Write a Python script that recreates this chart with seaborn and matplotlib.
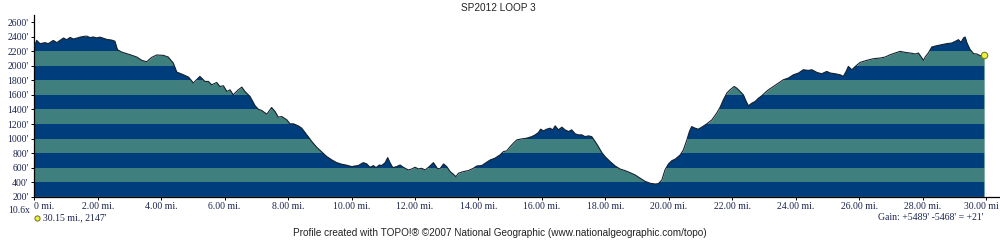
import numpy as np
import matplotlib
matplotlib.use("Agg")
import matplotlib.pyplot as plt
import seaborn as sns

# ---- data (distance in miles, elevation in feet) ----
dist = [0.00, 0.075, 0.18, 0.34, 0.44, 0.60, 0.71, 0.92, 1.02, 1.13, 1.23, 1.39, 1.44, 1.55, 1.65,
        1.76, 1.86, 1.97, 2.07, 2.18, 2.28, 2.44, 2.54, 2.62, 2.75, 3.02, 3.23, 3.39, 3.54, 3.70,
        3.86, 4.07, 4.22, 4.38, 4.49, 4.70, 4.86, 4.95, 5.01, 5.22, 5.38, 5.49, 5.59, 5.75, 5.85,
        5.96, 6.07, 6.17, 6.27, 6.43, 6.54, 6.64, 6.80, 6.96, 7.06, 7.17, 7.33, 7.48, 7.59, 7.69,
        7.80, 7.96, 8.06, 8.17, 8.32, 8.43, 8.59, 8.75, 8.90, 9.06, 9.22, 9.38, 9.53, 9.69, 9.85,
        10.01, 10.11, 10.21, 10.37, 10.48, 10.58, 10.69, 10.77, 10.88, 10.95, 11.06, 11.14, 11.21,
        11.30, 11.42, 11.53, 11.63, 11.79, 11.90, 12.00, 12.11, 12.21, 12.32, 12.45, 12.58, 12.71,
        12.79, 12.90, 13.00, 13.11, 13.21, 13.29, 13.37, 13.52, 13.68, 13.84, 13.95, 14.10, 14.21,
        14.37, 14.52, 14.68, 14.79, 14.89, 15.00, 15.10, 15.21, 15.37, 15.52, 15.68, 15.79, 15.89,
        15.96, 16.05, 16.15, 16.26, 16.34, 16.42, 16.52, 16.63, 16.73, 16.84, 16.94, 17.05, 17.15,
        17.26, 17.36, 17.47, 17.57, 17.68, 17.78, 17.89, 17.99, 18.15, 18.31, 18.46, 18.62, 18.78,
        18.94, 19.10, 19.25, 19.41, 19.57, 19.67, 19.78, 19.88, 19.99, 20.10, 20.20, 20.36, 20.46,
        20.57, 20.65, 20.72, 20.83, 20.93, 21.04, 21.20, 21.36, 21.51, 21.62, 21.72, 21.83, 21.93,
        22.06, 22.14, 22.25, 22.35, 22.44, 22.51, 22.62, 22.72, 22.83, 22.93, 23.04, 23.14, 23.30,
        23.46, 23.61, 23.77, 23.93, 24.09, 24.24, 24.40, 24.51, 24.67, 24.82, 24.98, 25.09, 25.24,
        25.40, 25.50, 25.59, 25.66, 25.77, 25.88, 26.03, 26.24, 26.45, 26.66, 26.82, 26.98, 27.13,
        27.29, 27.45, 27.61, 27.77, 27.87, 27.98, 28.03, 28.08, 28.18, 28.29, 28.45, 28.61, 28.76,
        28.92, 29.03, 29.13, 29.21, 29.29, 29.34, 29.40, 29.50, 29.61, 29.71, 29.82, 29.94]
elev = [2268, 2351, 2306, 2320, 2306, 2351, 2320, 2384, 2360, 2392, 2370, 2388, 2396, 2405, 2410,
        2390, 2398, 2385, 2396, 2380, 2365, 2355, 2340, 2223, 2191, 2154, 2122, 2076, 2057, 2117,
        2150, 2145, 2122, 2040, 1915, 1878, 1846, 1800, 1764, 1855, 1786, 1786, 1740, 1772, 1717,
        1727, 1648, 1671, 1602, 1671, 1708, 1648, 1579, 1451, 1405, 1386, 1336, 1427, 1372, 1295,
        1303, 1258, 1203, 1203, 1175, 1143, 1051, 958, 881, 816, 752, 706, 669, 647, 633,
        614, 623, 628, 669, 651, 605, 628, 600, 637, 628, 669, 738, 669,
        600, 614, 637, 605, 568, 582, 605, 582, 591, 568, 614, 669, 586,
        586, 651, 614, 545, 509, 476, 523, 545, 559, 591, 623, 628, 660,
        706, 730, 775, 821, 830, 889, 936, 982, 996, 1005, 1027, 1051, 1083,
        1129, 1106, 1129, 1143, 1120, 1175, 1120, 1157, 1120, 1097, 1120, 1065, 1051,
        1051, 1027, 1037, 1027, 958, 889, 807, 752, 683, 623, 582, 559, 531,
        499, 454, 412, 385, 375, 379, 430, 568, 651, 697, 716, 775, 844,
        982, 1097, 1165, 1143, 1129, 1157, 1203, 1258, 1350, 1433, 1534, 1626, 1671,
        1717, 1695, 1648, 1602, 1510, 1451, 1488, 1510, 1557, 1589, 1634, 1671, 1717,
        1764, 1809, 1833, 1878, 1902, 1947, 1938, 1947, 1910, 1892, 1924, 1902, 1892,
        1878, 1855, 1924, 1993, 1947, 1993, 2048, 2076, 2099, 2108, 2122, 2154, 2177,
        2200, 2186, 2177, 2164, 2177, 2108, 2076, 2122, 2177, 2260, 2278, 2292, 2306,
        2315, 2338, 2361, 2324, 2384, 2398, 2315, 2223, 2168, 2164, 2140, 2147]

x_ticks = list(range(0, 31, 2))
x_tick_labels = ["0 mi."] + [f"{v:.2f} mi." for v in x_ticks[1:-1]] + [""]
last_x_label = "30.00 mi"
y_ticks = list(range(200, 2601, 200))
y_tick_labels = [f"{v}'" for v in y_ticks]

title = "SP2012 LOOP 3"
footer = "Profile created with TOPO!\u00ae \u00a92007 National Geographic (www.nationalgeographic.com/topo)"
zoom_text = "10.6x"
cursor_text = "30.15 mi., 2147'"
gain_text = "Gain: +5489' -5468' = +21'"

DARK = "#003d7d"
TEAL = "#3f7f7e"
LABEL = "#1c2450"

sns.set_theme(style="white")
plt.rcParams["font.family"] = ["Liberation Serif", "DejaVu Serif"]

fig = plt.figure(figsize=(10, 2.4), dpi=100)
ax = fig.add_axes([0.0343, 0.1804, 0.9657, 0.757])

x = np.array(dist)
y = np.array(elev, dtype=float)

poly = ax.fill_between(x, 200, y, color=TEAL, linewidth=0, zorder=1)
for lo in range(200, 2700, 400):
    band = ax.axhspan(lo, lo + 200, color=DARK, linewidth=0, zorder=2)
    band.set_clip_path(poly.get_paths()[0], poly.get_transform())

sns.lineplot(x=x, y=y, ax=ax, color="#17222e", linewidth=0.8, zorder=3,
             sort=False, estimator=None)
ax.scatter([x[-1]], [y[-1]], s=22, color="#e8f040", edgecolor="#707020",
           linewidth=0.7, zorder=5, clip_on=False)

ax.set_xlim(0, 30.44)
ax.set_ylim(200, 2700)
ax.set_xticks(x_ticks)
ax.set_xticklabels(x_tick_labels, fontsize=7, color=LABEL)
ax.set_yticks(y_ticks)
ax.set_yticklabels(y_tick_labels, fontsize=7, color=LABEL)
ax.get_xticklabels()[0].set_horizontalalignment("left")
ax.tick_params(axis="both", which="major", direction="out", length=2.5, width=0.7,
               color="black", pad=1.5, bottom=True, left=True)
ax.annotate(last_x_label, xy=(1.0, 0.0), xycoords="axes fraction",
            xytext=(-1, -4), textcoords="offset points", ha="right", va="top",
            fontsize=7, color=LABEL, annotation_clip=False)
ax.set_xlabel("")
ax.set_ylabel("")

for s in ["top", "right"]:
    ax.spines[s].set_visible(False)
for s in ["left", "bottom"]:
    ax.spines[s].set_color("black")
    ax.spines[s].set_linewidth(0.9)
ax.grid(False)
ax.set_facecolor("white")

fig.text(0.498, 0.968, title, ha="center", va="center", fontsize=7.2,
         family=["Liberation Sans", "DejaVu Sans"], color="#222222")
fig.text(0.5, 0.03, footer, ha="center", va="center", fontsize=7.2,
         family=["Liberation Sans", "DejaVu Sans"], color="#222222")
fig.text(0.008, 0.122, zoom_text, ha="left", va="center", fontsize=7, color=LABEL)
fig.text(0.043, 0.092, cursor_text, ha="left", va="center", fontsize=7, color=LABEL)
fig.text(0.984, 0.094, gain_text, ha="right", va="center", fontsize=7, color=LABEL)
ax.scatter([0.0032], [-0.117], s=14, color="#e8f040", edgecolor="#707020", linewidth=0.7,
           transform=ax.transAxes, clip_on=False, zorder=5)

fig.savefig("out.png", dpi=100, facecolor="white")
